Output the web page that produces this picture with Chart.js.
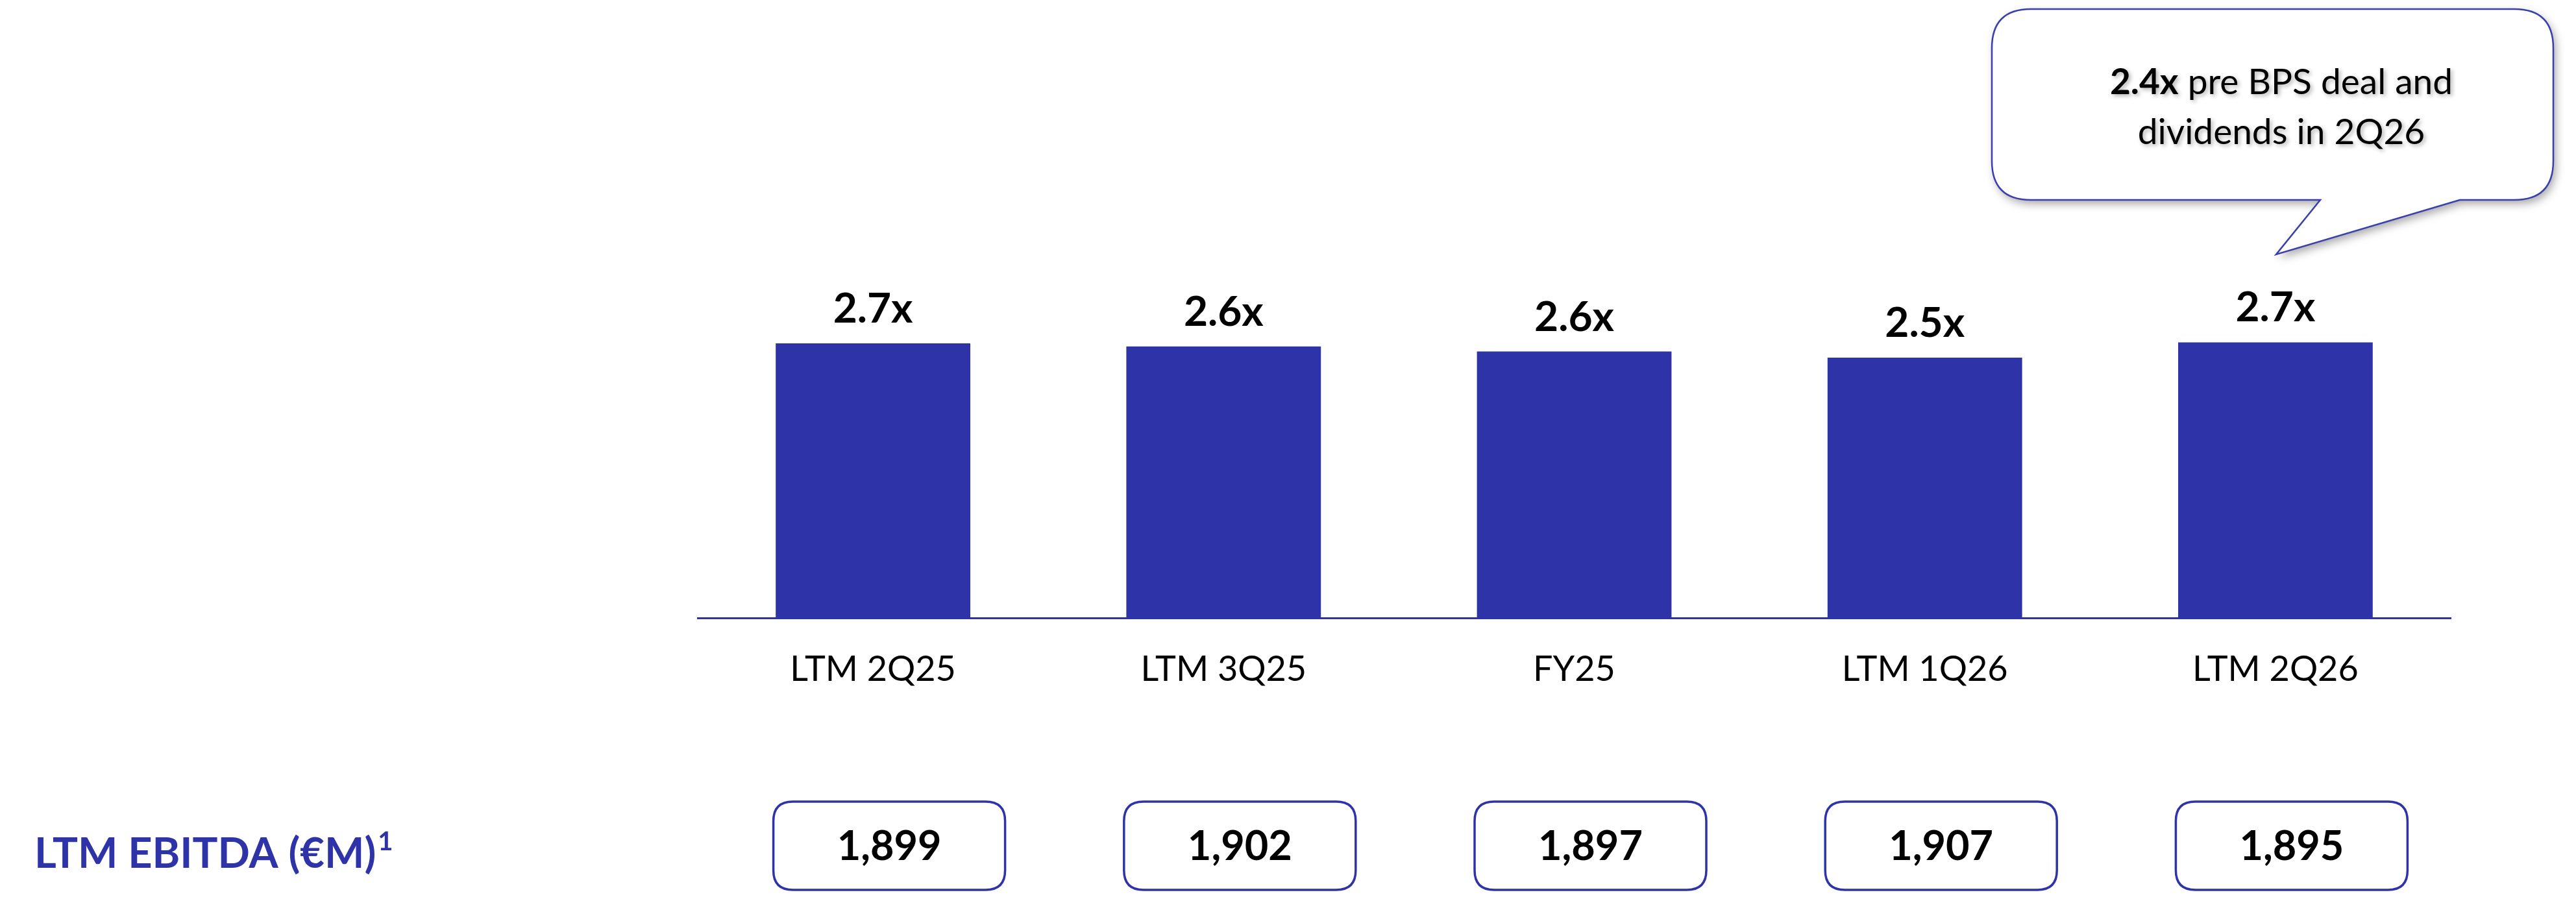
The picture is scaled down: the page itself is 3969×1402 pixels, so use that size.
<!DOCTYPE html>
<html>
<head>
<meta charset="utf-8">
<script src="https://cdn.jsdelivr.net/npm/chart.js@4.4.0/dist/chart.umd.min.js"></script>
<style>
  html, body { margin: 0; padding: 0; background: #fff; }
  #wrap { width: 3969px; height: 1402px; }
</style>
</head>
<body>
<div id="wrap"><canvas id="levChart" width="3969" height="1402"></canvas></div>
<script>
// leverage (net debt / LTM EBITDA) per period
const periods = ['LTM 2Q25', 'LTM 3Q25', 'FY25', 'LTM 1Q26', 'LTM 2Q26'];
const leverage = [2.70, 2.67, 2.62, 2.56, 2.71];
const leverageLabels = ['2.7x', '2.6x', '2.6x', '2.5x', '2.7x'];
const ebitda = ['1,899', '1,902', '1,897', '1,907', '1,895'];
const rowTitle = 'LTM EBITDA (€M)';
const calloutBold = '2.4x';
const calloutLines = [' pre BPS deal and', 'dividends in 2Q26'];

const BLUE = '#2e33a8';
const FONT = 'Lato, "Open Sans", sans-serif';

function roundRect(ctx, x, y, w, h, r) {
  ctx.beginPath();
  ctx.moveTo(x + r, y);
  ctx.lineTo(x + w - r, y);
  ctx.quadraticCurveTo(x + w, y, x + w, y + r);
  ctx.lineTo(x + w, y + h - r);
  ctx.quadraticCurveTo(x + w, y + h, x + w - r, y + h);
  ctx.lineTo(x + r, y + h);
  ctx.quadraticCurveTo(x, y + h, x, y + h - r);
  ctx.lineTo(x, y + r);
  ctx.quadraticCurveTo(x, y, x + r, y);
  ctx.closePath();
}

// bar value labels + EBITDA row + speech bubble
const extras = {
  id: 'extras',
  afterDatasetsDraw(chart) {
    const ctx = chart.ctx;
    const meta = chart.getDatasetMeta(0);
    const xs = chart.scales.x;

    ctx.save();
    ctx.fillStyle = '#000';
    ctx.textAlign = 'center';
    ctx.textBaseline = 'alphabetic';
    ctx.font = 'bold 64px ' + FONT;
    meta.data.forEach((bar, i) => {
      ctx.fillText(leverageLabels[i], bar.x, bar.y - 32);
    });

    // EBITDA boxes
    ebitda.forEach((v, i) => {
      const cx = xs.getPixelForValue(i) + 25;
      const w = 357, h = 136, top = 1235;
      roundRect(ctx, cx - w / 2, top, w, h, 30);
      ctx.lineWidth = 3.5;
      ctx.strokeStyle = BLUE;
      ctx.fillStyle = '#fff';
      ctx.fill();
      ctx.stroke();
      ctx.fillStyle = '#000';
      ctx.font = 'bold 63px ' + FONT;
      ctx.textBaseline = 'middle';
      ctx.fillText(v, cx, top + h / 2 + 2);
    });

    // row title
    ctx.textAlign = 'left';
    ctx.textBaseline = 'alphabetic';
    ctx.fillStyle = BLUE;
    ctx.font = 'bold 65px ' + FONT;
    ctx.fillText(rowTitle, 53, 1337);
    const tw = ctx.measureText(rowTitle).width;
    ctx.font = 'bold 40px ' + FONT;
    ctx.fillText('1', 53 + tw + 3, 1310);

    // speech bubble
    const bx = 3069, by = 14, bw = 865, bh = 294, r = 60;
    ctx.beginPath();
    ctx.moveTo(bx + r, by);
    ctx.lineTo(bx + bw - r, by);
    ctx.quadraticCurveTo(bx + bw, by, bx + bw, by + r);
    ctx.lineTo(bx + bw, by + bh - r);
    ctx.quadraticCurveTo(bx + bw, by + bh, bx + bw - r, by + bh);
    ctx.lineTo(3790, by + bh);
    ctx.lineTo(3507, 392);
    ctx.lineTo(3575, by + bh);
    ctx.lineTo(bx + r, by + bh);
    ctx.quadraticCurveTo(bx, by + bh, bx, by + bh - r);
    ctx.lineTo(bx, by + r);
    ctx.quadraticCurveTo(bx, by, bx + r, by);
    ctx.closePath();
    ctx.shadowColor = 'rgba(0,0,0,0.35)';
    ctx.shadowBlur = 14;
    ctx.shadowOffsetX = 4;
    ctx.shadowOffsetY = 6;
    ctx.fillStyle = '#fff';
    ctx.fill();
    ctx.shadowColor = 'transparent';
    ctx.lineWidth = 2.5;
    ctx.strokeStyle = '#3a3fb0';
    ctx.stroke();

    ctx.shadowColor = 'rgba(0,0,0,0.3)';
    ctx.shadowBlur = 6;
    ctx.shadowOffsetX = 3;
    ctx.shadowOffsetY = 3;
    ctx.fillStyle = '#000';
    ctx.textAlign = 'left';
    ctx.font = 'bold 55px ' + FONT;
    const bW = ctx.measureText(calloutBold).width;
    ctx.font = '55px ' + FONT;
    const rW = ctx.measureText(calloutLines[0]).width;
    let sx = 3515 - (bW + rW) / 2;
    ctx.font = 'bold 55px ' + FONT;
    ctx.fillText(calloutBold, sx, 145);
    ctx.font = '55px ' + FONT;
    ctx.fillText(calloutLines[0], sx + bW, 145);
    ctx.textAlign = 'center';
    ctx.fillText(calloutLines[1], 3515, 222);
    ctx.restore();
  }
};

new Chart(document.getElementById('levChart'), {
  type: 'bar',
  data: {
    labels: periods,
    datasets: [{
      data: leverage,
      backgroundColor: BLUE,
      borderWidth: 0,
      categoryPercentage: 1,
      barPercentage: 0.555
    }]
  },
  options: {
    responsive: false,
    devicePixelRatio: 1,
    animation: false,
    layout: { padding: { left: 1075, right: 193, top: 12, bottom: 0 } },
    plugins: { legend: { display: false }, tooltip: { enabled: false } },
    scales: {
      x: {
        grid: { display: false, drawTicks: false },
        border: { display: true, color: BLUE, width: 3 },
        ticks: { color: '#000', font: { family: FONT, size: 54 }, padding: 47, maxRotation: 0 },
        afterFit(scale) { scale.height = 450; }
      },
      y: {
        display: false,
        min: 0,
        max: 6
      }
    }
  },
  plugins: [extras]
});
</script>
</body>
</html>
